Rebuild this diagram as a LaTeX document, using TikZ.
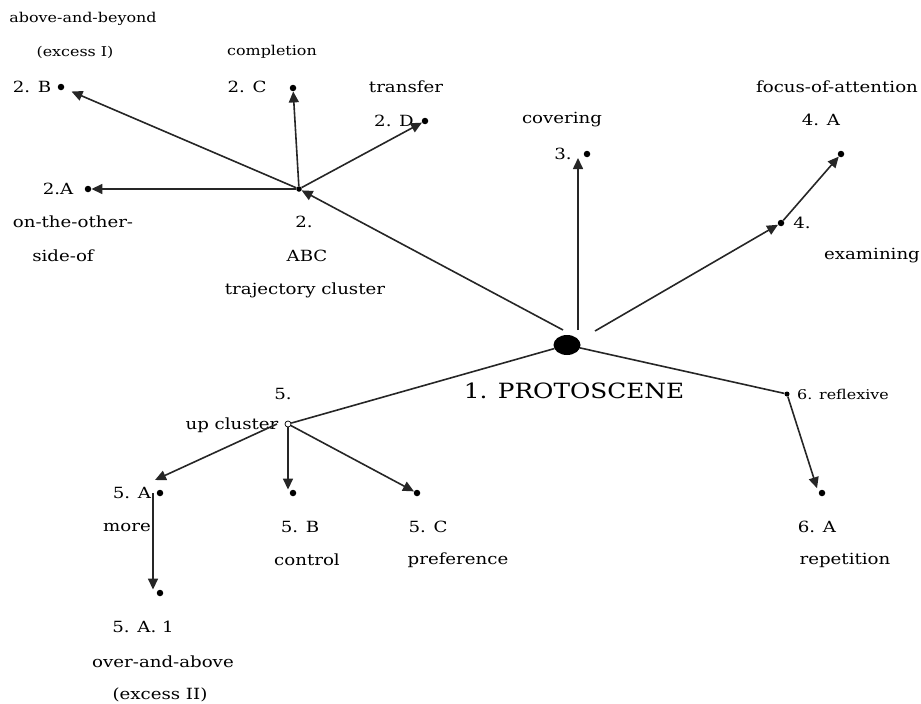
\documentclass[tikz,border=0pt]{standalone}
\usepackage{fontspec}
\setmainfont[FakeStretch=1.18]{DejaVu Serif}
\usepackage{tikz}
\usetikzlibrary{positioning, shapes.geometric, arrows.meta}

\tikzset{
  dot/.style={circle, fill=black, inner sep=0pt, minimum size=6.5pt},
  hub/.style={circle, draw=black, fill=white, line width=0.7pt, inner sep=0pt, minimum size=6pt},
  lbl/.style={inner sep=0pt, font=\fontsize{15.4}{17}\selectfont},
  sml/.style={inner sep=0pt, font=\fontsize{13.5}{15}\selectfont},
  arr/.style={draw=black!85, line width=1.6pt, -{Triangle[length=11pt,width=10pt]}},
  ln/.style={draw=black!85, line width=1.6pt},
}

\begin{document}
\begin{tikzpicture}[x=1pt, y=-1pt]
\useasboundingbox (0,0) rectangle (921,704);

% protoscene
\node[ellipse, fill=black, minimum width=27pt, minimum height=20pt, inner sep=0pt] (ps) at (567,345) {};
\node[inner sep=0pt, font=\fontsize{21}{24}\selectfont] (psl) at (574,391) {1. PROTOSCENE};

% 2. trajectory cluster
\node[dot, minimum size=5.5pt] (tc) at (299,189) {};
\node[lbl] (tc1) at (304,222) {2.};
\node[lbl] (tc2) at (307,256) {ABC};
\node[lbl] (tc3) at (305,290) {trajectory cluster};

\node[dot] (oth) at (88,189) {};
\node[lbl] (oth1) at (58,189) {2.A};
\node[lbl] (oth2) at (73,222) {on-the-other-};
\node[lbl] (oth3) at (63,256) {side-of};

\node[dot] (abv) at (61,87) {};
\node[lbl] (abv1) at (32,87) {2. B};
\node[sml] (abv2) at (75,52) {(excess I)};
\node[sml] (abv3) at (83,19) {above-and-beyond};

\node[dot] (cmp) at (293,88) {};
\node[lbl] (cmp1) at (247,87) {2. C};
\node[sml] (cmp2) at (272,52) {completion};

\node[dot] (trf) at (425,121) {};
\node[lbl] (trf1) at (394,121) {2. D};
\node[lbl] (trf2) at (406,87) {transfer};

% 3. covering
\node[dot] (cov) at (587,154) {};
\node[lbl] (cov1) at (563,154) {3.};
\node[lbl] (cov2) at (562,120) {covering};

% 4. examining
\node[dot] (exa) at (781,223) {};
\node[lbl] (exa1) at (802,223) {4.};
\node[lbl] (exa2) at (872,256) {examining};

\node[dot] (foc) at (841,154) {};
\node[lbl] (foc1) at (821,120) {4. A};
\node[lbl] (foc2) at (837,87) {focus-of-attention};

% 5. up cluster
\node[hub] (up) at (288,424) {};
\node[lbl] (up1) at (283,394) {5.};
\node[lbl] (up2) at (232,425) {up cluster};

\node[dot] (mor) at (160,493) {};
\node[lbl] (mor1) at (132,493) {5. A};
\node[lbl] (mor2) at (127,527) {more};

\node[dot] (ova) at (160,593) {};
\node[lbl] (ova1) at (143,627) {5. A. 1};
\node[lbl] (ova2) at (163,662) {over-and-above};
\node[lbl] (ova3) at (160,695) {(excess II)};

\node[dot] (ctl) at (293,493) {};
\node[lbl] (ctl1) at (300,527) {5. B};
\node[lbl] (ctl2) at (307,560) {control};

\node[dot] (prf) at (417,493) {};
\node[lbl] (prf1) at (428,527) {5. C};
\node[lbl] (prf2) at (458,560) {preference};

% 6. reflexive
\node[dot, minimum size=5pt] (rfx) at (787,394) {};
\node[sml] (rfx1) at (843,394) {6. reflexive};

\node[dot] (rep) at (822,493) {};
\node[lbl] (rep1) at (817,527) {6. A};
\node[lbl] (rep2) at (845,560) {repetition};

% connectors
\draw[arr] ([shift={(-4,-15)}]ps.center) -- (tc);
\draw[arr] ([shift={(11,-15)}]ps.center) -- ([shift={(-9,4)}]cov.center);
\draw[arr] ([shift={(28,-14)}]ps.center) -- (exa);
\draw[ln] (ps) -- (up);
\draw[ln] (ps) -- (rfx);

\draw[arr] (tc) -- (oth);
\draw[arr, shorten >=8pt] (tc) -- (abv);
\draw[arr] (tc) -- (cmp);
\draw[arr] (tc) -- (trf);

\draw[arr] (exa) -- (foc);

\draw[arr] ([xshift=-11pt]up.center) -- ([shift={(-5,-13)}]mor.center);
\draw[arr] (up) -- (up |- ctl.north);
\draw[arr] (up) -- (prf);
\draw[arr] ([xshift=-7pt]mor.center) -- ([xshift=-7pt]ova.north);

\draw[arr, shorten >=5pt] (rfx) -- (rep.west);
\end{tikzpicture}
\end{document}
